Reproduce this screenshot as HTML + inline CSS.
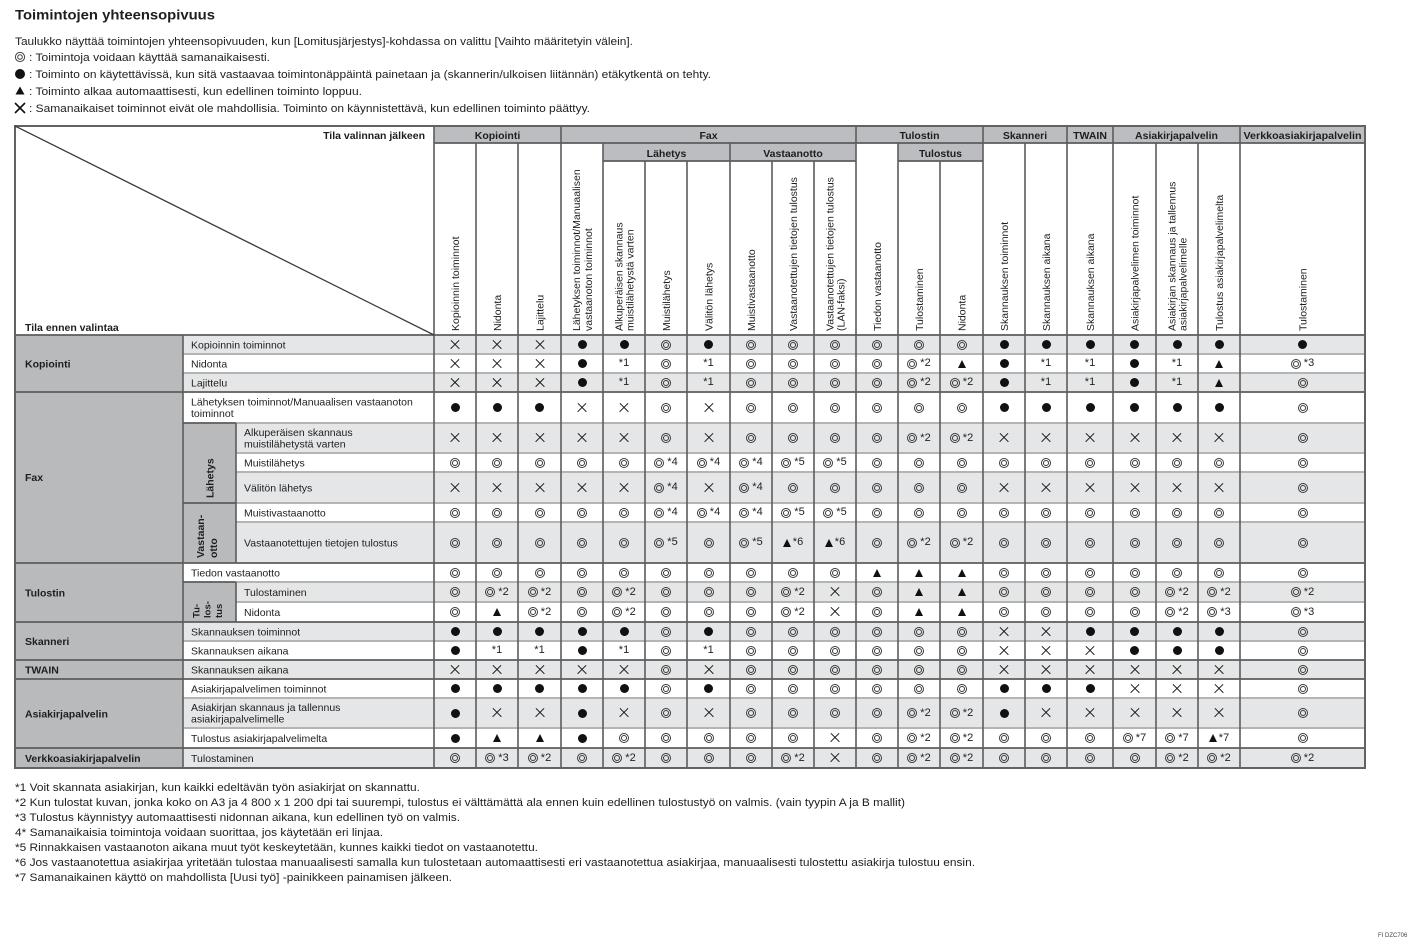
<!DOCTYPE html>
<html><head><meta charset="utf-8">
<style>
html,body{margin:0;padding:0;background:#fff;}
#pg{position:relative;width:1418px;height:941px;overflow:hidden;background:#fff;font-family:"Liberation Sans",sans-serif;}
svg{position:absolute;left:0;top:0;}
svg text{font-family:"Liberation Sans",sans-serif;fill:#1e1e1e;}
.r{position:absolute;left:434px;width:931px;display:flex;}
.r span{flex:0 0 42px;display:flex;align-items:center;justify-content:center;font-size:11px;line-height:1;color:#222;font-family:"Liberation Sans",sans-serif;}
.r span:nth-child(3),.r span:nth-child(7),.r span:nth-child(13),.r span:nth-child(17){flex-basis:43px;}
.r span:nth-child(16){flex-basis:46px;}
.r span:nth-child(20){flex-basis:125px;}
i{display:inline-block;flex:none;}
.o{width:10px;height:10px;border:3px double #3a3a3a;border-radius:50%;box-sizing:border-box;}
.b{width:9px;height:9px;border-radius:50%;background:#111;}
.t{width:0;height:0;border-left:4.5px solid transparent;border-right:4.5px solid transparent;border-bottom:8px solid #111;}
.x{width:9px;height:9px;position:relative;}
.x::before,.x::after{content:"";position:absolute;left:-1.5px;top:3.8px;width:12px;height:1.45px;background:#151515;transform:rotate(45deg);}
.x::after{transform:rotate(-45deg);}
em{font-style:normal;margin-left:3px;}
.t+em{margin-left:2px;}
</style></head>
<body><div id="pg">
<svg width="1418" height="941" viewBox="0 0 1418 941" xmlns="http://www.w3.org/2000/svg">
<text x="15" y="19.5" font-size="14" font-weight="bold" textLength="200" lengthAdjust="spacingAndGlyphs">Toimintojen yhteensopivuus</text>
<text x="15" y="45" font-size="11" textLength="618" lengthAdjust="spacingAndGlyphs">Taulukko näyttää toimintojen yhteensopivuuden, kun [Lomitusjärjestys]-kohdassa on valittu [Vaihto määritetyin välein].</text>
<circle cx="20" cy="57" r="4.6" fill="none" stroke="#444" stroke-width="1"/><circle cx="20" cy="57" r="2.3" fill="none" stroke="#444" stroke-width="1"/>
<text x="29" y="61" font-size="11" textLength="241" lengthAdjust="spacingAndGlyphs">: Toimintoja voidaan käyttää samanaikaisesti.</text>
<circle cx="20" cy="74" r="5" fill="#111"/>
<text x="29" y="78" font-size="11" textLength="682" lengthAdjust="spacingAndGlyphs">: Toiminto on käytettävissä, kun sitä vastaavaa toimintonäppäintä painetaan ja (skannerin/ulkoisen liitännän) etäkytkentä on tehty.</text>
<path d="M20 86.5 L24.5 94.5 H15.5 Z" fill="#111"/>
<text x="29" y="95" font-size="11" textLength="333" lengthAdjust="spacingAndGlyphs">: Toiminto alkaa automaattisesti, kun edellinen toiminto loppuu.</text>
<path d="M15 103 L25 113 M25 103 L15 113" stroke="#111" stroke-width="1.6"/>
<text x="29" y="112" font-size="11" textLength="561" lengthAdjust="spacingAndGlyphs">: Samanaikaiset toiminnot eivät ole mahdollisia. Toiminto on käynnistettävä, kun edellinen toiminto päättyy.</text>

<rect x="15" y="126" width="1350" height="642" fill="#fff"/>
<rect x="434" y="126" width="931" height="17" fill="#bcbdc0"/>
<rect x="603" y="143" width="253" height="18" fill="#bcbdc0"/>
<rect x="898" y="143" width="85" height="18" fill="#bcbdc0"/>
<rect x="15" y="335" width="168" height="433" fill="#b9babc"/>
<g fill="#e5e6e7">
<rect x="183" y="335" width="1182" height="19"/>
<rect x="183" y="373" width="1182" height="19"/>
<rect x="183" y="423" width="1182" height="30"/>
<rect x="183" y="472" width="1182" height="31"/>
<rect x="183" y="522" width="1182" height="41"/>
<rect x="183" y="582" width="1182" height="20"/>
<rect x="183" y="622" width="1182" height="19"/>
<rect x="183" y="660" width="1182" height="19"/>
<rect x="183" y="698" width="1182" height="30"/>
<rect x="183" y="748" width="1182" height="20"/>
</g>
<rect x="183" y="423" width="53" height="140" fill="#b9babc"/>
<rect x="183" y="582" width="53" height="40" fill="#b9babc"/>

<g stroke="#b4b4b4" stroke-width="2">
<line x1="183" y1="354" x2="1365" y2="354"/>
<line x1="183" y1="373" x2="1365" y2="373"/>
<line x1="236" y1="423" x2="1365" y2="423"/>
<line x1="236" y1="453" x2="1365" y2="453"/>
<line x1="236" y1="472" x2="1365" y2="472"/>
<line x1="236" y1="503" x2="1365" y2="503"/>
<line x1="236" y1="522" x2="1365" y2="522"/>
<line x1="236" y1="582" x2="1365" y2="582"/>
<line x1="236" y1="602" x2="1365" y2="602"/>
<line x1="183" y1="641" x2="1365" y2="641"/>
<line x1="183" y1="698" x2="1365" y2="698"/>
<line x1="183" y1="728" x2="1365" y2="728"/>
</g>
<g stroke="#5c5c5c" stroke-width="1.6">
<line x1="183" y1="335" x2="183" y2="768"/>
<line x1="236" y1="423" x2="236" y2="563"/>
<line x1="236" y1="582" x2="236" y2="622"/>
<line x1="434" y1="126" x2="434" y2="768"/>
<line x1="561" y1="126" x2="561" y2="768"/>
<line x1="856" y1="126" x2="856" y2="768"/>
<line x1="983" y1="126" x2="983" y2="768"/>
<line x1="1067" y1="126" x2="1067" y2="768"/>
<line x1="1113" y1="126" x2="1113" y2="768"/>
<line x1="1240" y1="126" x2="1240" y2="768"/>
<line x1="476" y1="143" x2="476" y2="768"/>
<line x1="518" y1="143" x2="518" y2="768"/>
<line x1="603" y1="143" x2="603" y2="768"/>
<line x1="730" y1="143" x2="730" y2="768"/>
<line x1="898" y1="143" x2="898" y2="768"/>
<line x1="1025" y1="143" x2="1025" y2="768"/>
<line x1="1156" y1="143" x2="1156" y2="768"/>
<line x1="1198" y1="143" x2="1198" y2="768"/>
<line x1="645" y1="161" x2="645" y2="768"/>
<line x1="687" y1="161" x2="687" y2="768"/>
<line x1="772" y1="161" x2="772" y2="768"/>
<line x1="814" y1="161" x2="814" y2="768"/>
<line x1="940" y1="161" x2="940" y2="768"/>
</g>
<g stroke="#5c5c5c" stroke-width="1.8">
<line x1="434" y1="143" x2="1365" y2="143"/>
<line x1="603" y1="161" x2="856" y2="161"/>
<line x1="898" y1="161" x2="983" y2="161"/>
<line x1="15" y1="335" x2="1365" y2="335"/>
<line x1="15" y1="392" x2="1365" y2="392"/>
<line x1="15" y1="563" x2="1365" y2="563"/>
<line x1="15" y1="622" x2="1365" y2="622"/>
<line x1="15" y1="660" x2="1365" y2="660"/>
<line x1="15" y1="679" x2="1365" y2="679"/>
<line x1="15" y1="748" x2="1365" y2="748"/>
<line x1="183" y1="423" x2="236" y2="423"/>
<line x1="183" y1="503" x2="236" y2="503"/>
<line x1="183" y1="582" x2="236" y2="582"/>
</g>
<rect x="15" y="126" width="1350" height="642" fill="none" stroke="#626262" stroke-width="2"/>
<line x1="15" y1="126" x2="434" y2="335" stroke="#3c3c3c" stroke-width="1.3"/>

<g font-size="10.5" font-weight="bold">
<text x="425" y="139" text-anchor="end">Tila valinnan jälkeen</text>
<text x="25" y="331">Tila ennen valintaa</text>
<text x="497.5" y="139" text-anchor="middle">Kopiointi</text>
<text x="708.5" y="139" text-anchor="middle">Fax</text>
<text x="919.5" y="139" text-anchor="middle">Tulostin</text>
<text x="1025" y="139" text-anchor="middle">Skanneri</text>
<text x="1090" y="139" text-anchor="middle">TWAIN</text>
<text x="1176.5" y="139" text-anchor="middle">Asiakirjapalvelin</text>
<text x="1302.5" y="139" text-anchor="middle" textLength="118" lengthAdjust="spacingAndGlyphs">Verkkoasiakirjapalvelin</text>
<text x="666.5" y="157" text-anchor="middle">Lähetys</text>
<text x="793" y="157" text-anchor="middle">Vastaanotto</text>
<text x="940.5" y="157" text-anchor="middle">Tulostus</text>
</g>
<g font-size="10.5">
<text transform="translate(459,331) rotate(-90)">Kopioinnin toiminnot</text>
<text transform="translate(501,331) rotate(-90)">Nidonta</text>
<text transform="translate(543.5,331) rotate(-90)">Lajittelu</text>
<text transform="translate(580,331) rotate(-90)">Lähetyksen toiminnot/Manuaalisen</text>
<text transform="translate(592,331) rotate(-90)">vastaanoton toiminnot</text>
<text transform="translate(622.5,331) rotate(-90)">Alkuperäisen skannaus</text>
<text transform="translate(633.5,331) rotate(-90)">muistilähetystä varten</text>
<text transform="translate(670,331) rotate(-90)">Muistilähetys</text>
<text transform="translate(712.5,331) rotate(-90)">Välitön lähetys</text>
<text transform="translate(755,331) rotate(-90)">Muistivastaanotto</text>
<text transform="translate(797,331) rotate(-90)">Vastaanotettujen tietojen tulostus</text>
<text transform="translate(833.5,331) rotate(-90)">Vastaanotettujen tietojen tulostus</text>
<text transform="translate(844.5,331) rotate(-90)">(LAN-faksi)</text>
<text transform="translate(881,331) rotate(-90)">Tiedon vastaanotto</text>
<text transform="translate(923,331) rotate(-90)">Tulostaminen</text>
<text transform="translate(965.5,331) rotate(-90)">Nidonta</text>
<text transform="translate(1008,331) rotate(-90)">Skannauksen toiminnot</text>
<text transform="translate(1050,331) rotate(-90)">Skannauksen aikana</text>
<text transform="translate(1094,331) rotate(-90)">Skannauksen aikana</text>
<text transform="translate(1138.5,331) rotate(-90)">Asiakirjapalvelimen toiminnot</text>
<text transform="translate(1175.5,331) rotate(-90)">Asiakirjan skannaus ja tallennus</text>
<text transform="translate(1186.5,331) rotate(-90)">asiakirjapalvelimelle</text>
<text transform="translate(1223,331) rotate(-90)">Tulostus asiakirjapalvelimelta</text>
<text transform="translate(1306.5,331) rotate(-90)">Tulostaminen</text>
</g>

<g font-size="10.5" font-weight="bold">
<text x="25" y="367.5">Kopiointi</text>
<text x="25" y="481">Fax</text>
<text x="25" y="596.5">Tulostin</text>
<text x="25" y="645">Skanneri</text>
<text x="25" y="673.5">TWAIN</text>
<text x="25" y="717.5">Asiakirjapalvelin</text>
<text x="25" y="762">Verkkoasiakirjapalvelin</text>
<text transform="translate(213.5,498) rotate(-90)">Lähetys</text>
<text transform="translate(204,558) rotate(-90)">Vastaan-</text>
<text transform="translate(217,558) rotate(-90)">otto</text>
</g>
<g font-size="9.5" font-weight="bold">
<text transform="translate(199.5,618) rotate(-90)">Tu-</text>
<text transform="translate(210.5,618) rotate(-90)">los-</text>
<text transform="translate(222,618) rotate(-90)">tus</text>
</g>
<g font-size="10.5">
<text x="191" y="348.5">Kopioinnin toiminnot</text>
<text x="191" y="367.5">Nidonta</text>
<text x="191" y="386.5">Lajittelu</text>
<text x="191" y="405.5">Lähetyksen toiminnot/Manuaalisen vastaanoton</text>
<text x="191" y="417">toiminnot</text>
<text x="244" y="436">Alkuperäisen skannaus</text>
<text x="244" y="447.5">muistilähetystä varten</text>
<text x="244" y="466.5">Muistilähetys</text>
<text x="244" y="491.5">Välitön lähetys</text>
<text x="244" y="516.5">Muistivastaanotto</text>
<text x="244" y="546.5">Vastaanotettujen tietojen tulostus</text>
<text x="191" y="576.5">Tiedon vastaanotto</text>
<text x="244" y="596">Tulostaminen</text>
<text x="244" y="616">Nidonta</text>
<text x="191" y="635.5">Skannauksen toiminnot</text>
<text x="191" y="654.5">Skannauksen aikana</text>
<text x="191" y="673.5">Skannauksen aikana</text>
<text x="191" y="692.5">Asiakirjapalvelimen toiminnot</text>
<text x="191" y="711">Asiakirjan skannaus ja tallennus</text>
<text x="191" y="722.5">asiakirjapalvelimelle</text>
<text x="191" y="742">Tulostus asiakirjapalvelimelta</text>
<text x="191" y="762">Tulostaminen</text>
</g>

<g font-size="11">
<text x="15" y="791" textLength="405" lengthAdjust="spacingAndGlyphs">*1 Voit skannata asiakirjan, kun kaikki edeltävän työn asiakirjat on skannattu.</text>
<text x="15" y="806" textLength="890" lengthAdjust="spacingAndGlyphs">*2 Kun tulostat kuvan, jonka koko on A3 ja 4 800 x 1 200 dpi tai suurempi, tulostus ei välttämättä ala ennen kuin edellinen tulostustyö on valmis. (vain tyypin A ja B mallit)</text>
<text x="15" y="821" textLength="445" lengthAdjust="spacingAndGlyphs">*3 Tulostus käynnistyy automaattisesti nidonnan aikana, kun edellinen työ on valmis.</text>
<text x="15" y="836" textLength="368" lengthAdjust="spacingAndGlyphs">4* Samanaikaisia toimintoja voidaan suorittaa, jos käytetään eri linjaa.</text>
<text x="15" y="851" textLength="523" lengthAdjust="spacingAndGlyphs">*5 Rinnakkaisen vastaanoton aikana muut työt keskeytetään, kunnes kaikki tiedot on vastaanotettu.</text>
<text x="15" y="866" textLength="960" lengthAdjust="spacingAndGlyphs">*6 Jos vastaanotettua asiakirjaa yritetään tulostaa manuaalisesti samalla kun tulostetaan automaattisesti eri vastaanotettua asiakirjaa, manuaalisesti tulostettu asiakirja tulostuu ensin.</text>
<text x="15" y="881" textLength="437" lengthAdjust="spacingAndGlyphs">*7 Samanaikainen käyttö on mahdollista [Uusi työ] -painikkeen painamisen jälkeen.</text>
</g>
<text x="1378" y="937" font-size="6" style="fill:#444">FI DZC706</text>
</svg>

<div class="r" style="top:335px;height:19px"><span><i class=x></i></span><span><i class=x></i></span><span><i class=x></i></span><span><i class=b></i></span><span><i class=b></i></span><span><i class=o></i></span><span><i class=b></i></span><span><i class=o></i></span><span><i class=o></i></span><span><i class=o></i></span><span><i class=o></i></span><span><i class=o></i></span><span><i class=o></i></span><span><i class=b></i></span><span><i class=b></i></span><span><i class=b></i></span><span><i class=b></i></span><span><i class=b></i></span><span><i class=b></i></span><span><i class=b></i></span></div>
<div class="r" style="top:354px;height:19px"><span><i class=x></i></span><span><i class=x></i></span><span><i class=x></i></span><span><i class=b></i></span><span>*1</span><span><i class=o></i></span><span>*1</span><span><i class=o></i></span><span><i class=o></i></span><span><i class=o></i></span><span><i class=o></i></span><span><i class=o></i><em>*2</em></span><span><i class=t></i></span><span><i class=b></i></span><span>*1</span><span>*1</span><span><i class=b></i></span><span>*1</span><span><i class=t></i></span><span><i class=o></i><em>*3</em></span></div>
<div class="r" style="top:373px;height:19px"><span><i class=x></i></span><span><i class=x></i></span><span><i class=x></i></span><span><i class=b></i></span><span>*1</span><span><i class=o></i></span><span>*1</span><span><i class=o></i></span><span><i class=o></i></span><span><i class=o></i></span><span><i class=o></i></span><span><i class=o></i><em>*2</em></span><span><i class=o></i><em>*2</em></span><span><i class=b></i></span><span>*1</span><span>*1</span><span><i class=b></i></span><span>*1</span><span><i class=t></i></span><span><i class=o></i></span></div>
<div class="r" style="top:392px;height:31px"><span><i class=b></i></span><span><i class=b></i></span><span><i class=b></i></span><span><i class=x></i></span><span><i class=x></i></span><span><i class=o></i></span><span><i class=x></i></span><span><i class=o></i></span><span><i class=o></i></span><span><i class=o></i></span><span><i class=o></i></span><span><i class=o></i></span><span><i class=o></i></span><span><i class=b></i></span><span><i class=b></i></span><span><i class=b></i></span><span><i class=b></i></span><span><i class=b></i></span><span><i class=b></i></span><span><i class=o></i></span></div>
<div class="r" style="top:423px;height:30px"><span><i class=x></i></span><span><i class=x></i></span><span><i class=x></i></span><span><i class=x></i></span><span><i class=x></i></span><span><i class=o></i></span><span><i class=x></i></span><span><i class=o></i></span><span><i class=o></i></span><span><i class=o></i></span><span><i class=o></i></span><span><i class=o></i><em>*2</em></span><span><i class=o></i><em>*2</em></span><span><i class=x></i></span><span><i class=x></i></span><span><i class=x></i></span><span><i class=x></i></span><span><i class=x></i></span><span><i class=x></i></span><span><i class=o></i></span></div>
<div class="r" style="top:453px;height:19px"><span><i class=o></i></span><span><i class=o></i></span><span><i class=o></i></span><span><i class=o></i></span><span><i class=o></i></span><span><i class=o></i><em>*4</em></span><span><i class=o></i><em>*4</em></span><span><i class=o></i><em>*4</em></span><span><i class=o></i><em>*5</em></span><span><i class=o></i><em>*5</em></span><span><i class=o></i></span><span><i class=o></i></span><span><i class=o></i></span><span><i class=o></i></span><span><i class=o></i></span><span><i class=o></i></span><span><i class=o></i></span><span><i class=o></i></span><span><i class=o></i></span><span><i class=o></i></span></div>
<div class="r" style="top:472px;height:31px"><span><i class=x></i></span><span><i class=x></i></span><span><i class=x></i></span><span><i class=x></i></span><span><i class=x></i></span><span><i class=o></i><em>*4</em></span><span><i class=x></i></span><span><i class=o></i><em>*4</em></span><span><i class=o></i></span><span><i class=o></i></span><span><i class=o></i></span><span><i class=o></i></span><span><i class=o></i></span><span><i class=x></i></span><span><i class=x></i></span><span><i class=x></i></span><span><i class=x></i></span><span><i class=x></i></span><span><i class=x></i></span><span><i class=o></i></span></div>
<div class="r" style="top:503px;height:19px"><span><i class=o></i></span><span><i class=o></i></span><span><i class=o></i></span><span><i class=o></i></span><span><i class=o></i></span><span><i class=o></i><em>*4</em></span><span><i class=o></i><em>*4</em></span><span><i class=o></i><em>*4</em></span><span><i class=o></i><em>*5</em></span><span><i class=o></i><em>*5</em></span><span><i class=o></i></span><span><i class=o></i></span><span><i class=o></i></span><span><i class=o></i></span><span><i class=o></i></span><span><i class=o></i></span><span><i class=o></i></span><span><i class=o></i></span><span><i class=o></i></span><span><i class=o></i></span></div>
<div class="r" style="top:522px;height:41px"><span><i class=o></i></span><span><i class=o></i></span><span><i class=o></i></span><span><i class=o></i></span><span><i class=o></i></span><span><i class=o></i><em>*5</em></span><span><i class=o></i></span><span><i class=o></i><em>*5</em></span><span><i class=t></i><em>*6</em></span><span><i class=t></i><em>*6</em></span><span><i class=o></i></span><span><i class=o></i><em>*2</em></span><span><i class=o></i><em>*2</em></span><span><i class=o></i></span><span><i class=o></i></span><span><i class=o></i></span><span><i class=o></i></span><span><i class=o></i></span><span><i class=o></i></span><span><i class=o></i></span></div>
<div class="r" style="top:563px;height:19px"><span><i class=o></i></span><span><i class=o></i></span><span><i class=o></i></span><span><i class=o></i></span><span><i class=o></i></span><span><i class=o></i></span><span><i class=o></i></span><span><i class=o></i></span><span><i class=o></i></span><span><i class=o></i></span><span><i class=t></i></span><span><i class=t></i></span><span><i class=t></i></span><span><i class=o></i></span><span><i class=o></i></span><span><i class=o></i></span><span><i class=o></i></span><span><i class=o></i></span><span><i class=o></i></span><span><i class=o></i></span></div>
<div class="r" style="top:582px;height:20px"><span><i class=o></i></span><span><i class=o></i><em>*2</em></span><span><i class=o></i><em>*2</em></span><span><i class=o></i></span><span><i class=o></i><em>*2</em></span><span><i class=o></i></span><span><i class=o></i></span><span><i class=o></i></span><span><i class=o></i><em>*2</em></span><span><i class=x></i></span><span><i class=o></i></span><span><i class=t></i></span><span><i class=t></i></span><span><i class=o></i></span><span><i class=o></i></span><span><i class=o></i></span><span><i class=o></i></span><span><i class=o></i><em>*2</em></span><span><i class=o></i><em>*2</em></span><span><i class=o></i><em>*2</em></span></div>
<div class="r" style="top:602px;height:20px"><span><i class=o></i></span><span><i class=t></i></span><span><i class=o></i><em>*2</em></span><span><i class=o></i></span><span><i class=o></i><em>*2</em></span><span><i class=o></i></span><span><i class=o></i></span><span><i class=o></i></span><span><i class=o></i><em>*2</em></span><span><i class=x></i></span><span><i class=o></i></span><span><i class=t></i></span><span><i class=t></i></span><span><i class=o></i></span><span><i class=o></i></span><span><i class=o></i></span><span><i class=o></i></span><span><i class=o></i><em>*2</em></span><span><i class=o></i><em>*3</em></span><span><i class=o></i><em>*3</em></span></div>
<div class="r" style="top:622px;height:19px"><span><i class=b></i></span><span><i class=b></i></span><span><i class=b></i></span><span><i class=b></i></span><span><i class=b></i></span><span><i class=o></i></span><span><i class=b></i></span><span><i class=o></i></span><span><i class=o></i></span><span><i class=o></i></span><span><i class=o></i></span><span><i class=o></i></span><span><i class=o></i></span><span><i class=x></i></span><span><i class=x></i></span><span><i class=b></i></span><span><i class=b></i></span><span><i class=b></i></span><span><i class=b></i></span><span><i class=o></i></span></div>
<div class="r" style="top:641px;height:19px"><span><i class=b></i></span><span>*1</span><span>*1</span><span><i class=b></i></span><span>*1</span><span><i class=o></i></span><span>*1</span><span><i class=o></i></span><span><i class=o></i></span><span><i class=o></i></span><span><i class=o></i></span><span><i class=o></i></span><span><i class=o></i></span><span><i class=x></i></span><span><i class=x></i></span><span><i class=x></i></span><span><i class=b></i></span><span><i class=b></i></span><span><i class=b></i></span><span><i class=o></i></span></div>
<div class="r" style="top:660px;height:19px"><span><i class=x></i></span><span><i class=x></i></span><span><i class=x></i></span><span><i class=x></i></span><span><i class=x></i></span><span><i class=o></i></span><span><i class=x></i></span><span><i class=o></i></span><span><i class=o></i></span><span><i class=o></i></span><span><i class=o></i></span><span><i class=o></i></span><span><i class=o></i></span><span><i class=x></i></span><span><i class=x></i></span><span><i class=x></i></span><span><i class=x></i></span><span><i class=x></i></span><span><i class=x></i></span><span><i class=o></i></span></div>
<div class="r" style="top:679px;height:19px"><span><i class=b></i></span><span><i class=b></i></span><span><i class=b></i></span><span><i class=b></i></span><span><i class=b></i></span><span><i class=o></i></span><span><i class=b></i></span><span><i class=o></i></span><span><i class=o></i></span><span><i class=o></i></span><span><i class=o></i></span><span><i class=o></i></span><span><i class=o></i></span><span><i class=b></i></span><span><i class=b></i></span><span><i class=b></i></span><span><i class=x></i></span><span><i class=x></i></span><span><i class=x></i></span><span><i class=o></i></span></div>
<div class="r" style="top:698px;height:30px"><span><i class=b></i></span><span><i class=x></i></span><span><i class=x></i></span><span><i class=b></i></span><span><i class=x></i></span><span><i class=o></i></span><span><i class=x></i></span><span><i class=o></i></span><span><i class=o></i></span><span><i class=o></i></span><span><i class=o></i></span><span><i class=o></i><em>*2</em></span><span><i class=o></i><em>*2</em></span><span><i class=b></i></span><span><i class=x></i></span><span><i class=x></i></span><span><i class=x></i></span><span><i class=x></i></span><span><i class=x></i></span><span><i class=o></i></span></div>
<div class="r" style="top:728px;height:20px"><span><i class=b></i></span><span><i class=t></i></span><span><i class=t></i></span><span><i class=b></i></span><span><i class=o></i></span><span><i class=o></i></span><span><i class=o></i></span><span><i class=o></i></span><span><i class=o></i></span><span><i class=x></i></span><span><i class=o></i></span><span><i class=o></i><em>*2</em></span><span><i class=o></i><em>*2</em></span><span><i class=o></i></span><span><i class=o></i></span><span><i class=o></i></span><span><i class=o></i><em>*7</em></span><span><i class=o></i><em>*7</em></span><span><i class=t></i><em>*7</em></span><span><i class=o></i></span></div>
<div class="r" style="top:748px;height:20px"><span><i class=o></i></span><span><i class=o></i><em>*3</em></span><span><i class=o></i><em>*2</em></span><span><i class=o></i></span><span><i class=o></i><em>*2</em></span><span><i class=o></i></span><span><i class=o></i></span><span><i class=o></i></span><span><i class=o></i><em>*2</em></span><span><i class=x></i></span><span><i class=o></i></span><span><i class=o></i><em>*2</em></span><span><i class=o></i><em>*2</em></span><span><i class=o></i></span><span><i class=o></i></span><span><i class=o></i></span><span><i class=o></i></span><span><i class=o></i><em>*2</em></span><span><i class=o></i><em>*2</em></span><span><i class=o></i><em>*2</em></span></div>
</div></body></html>
